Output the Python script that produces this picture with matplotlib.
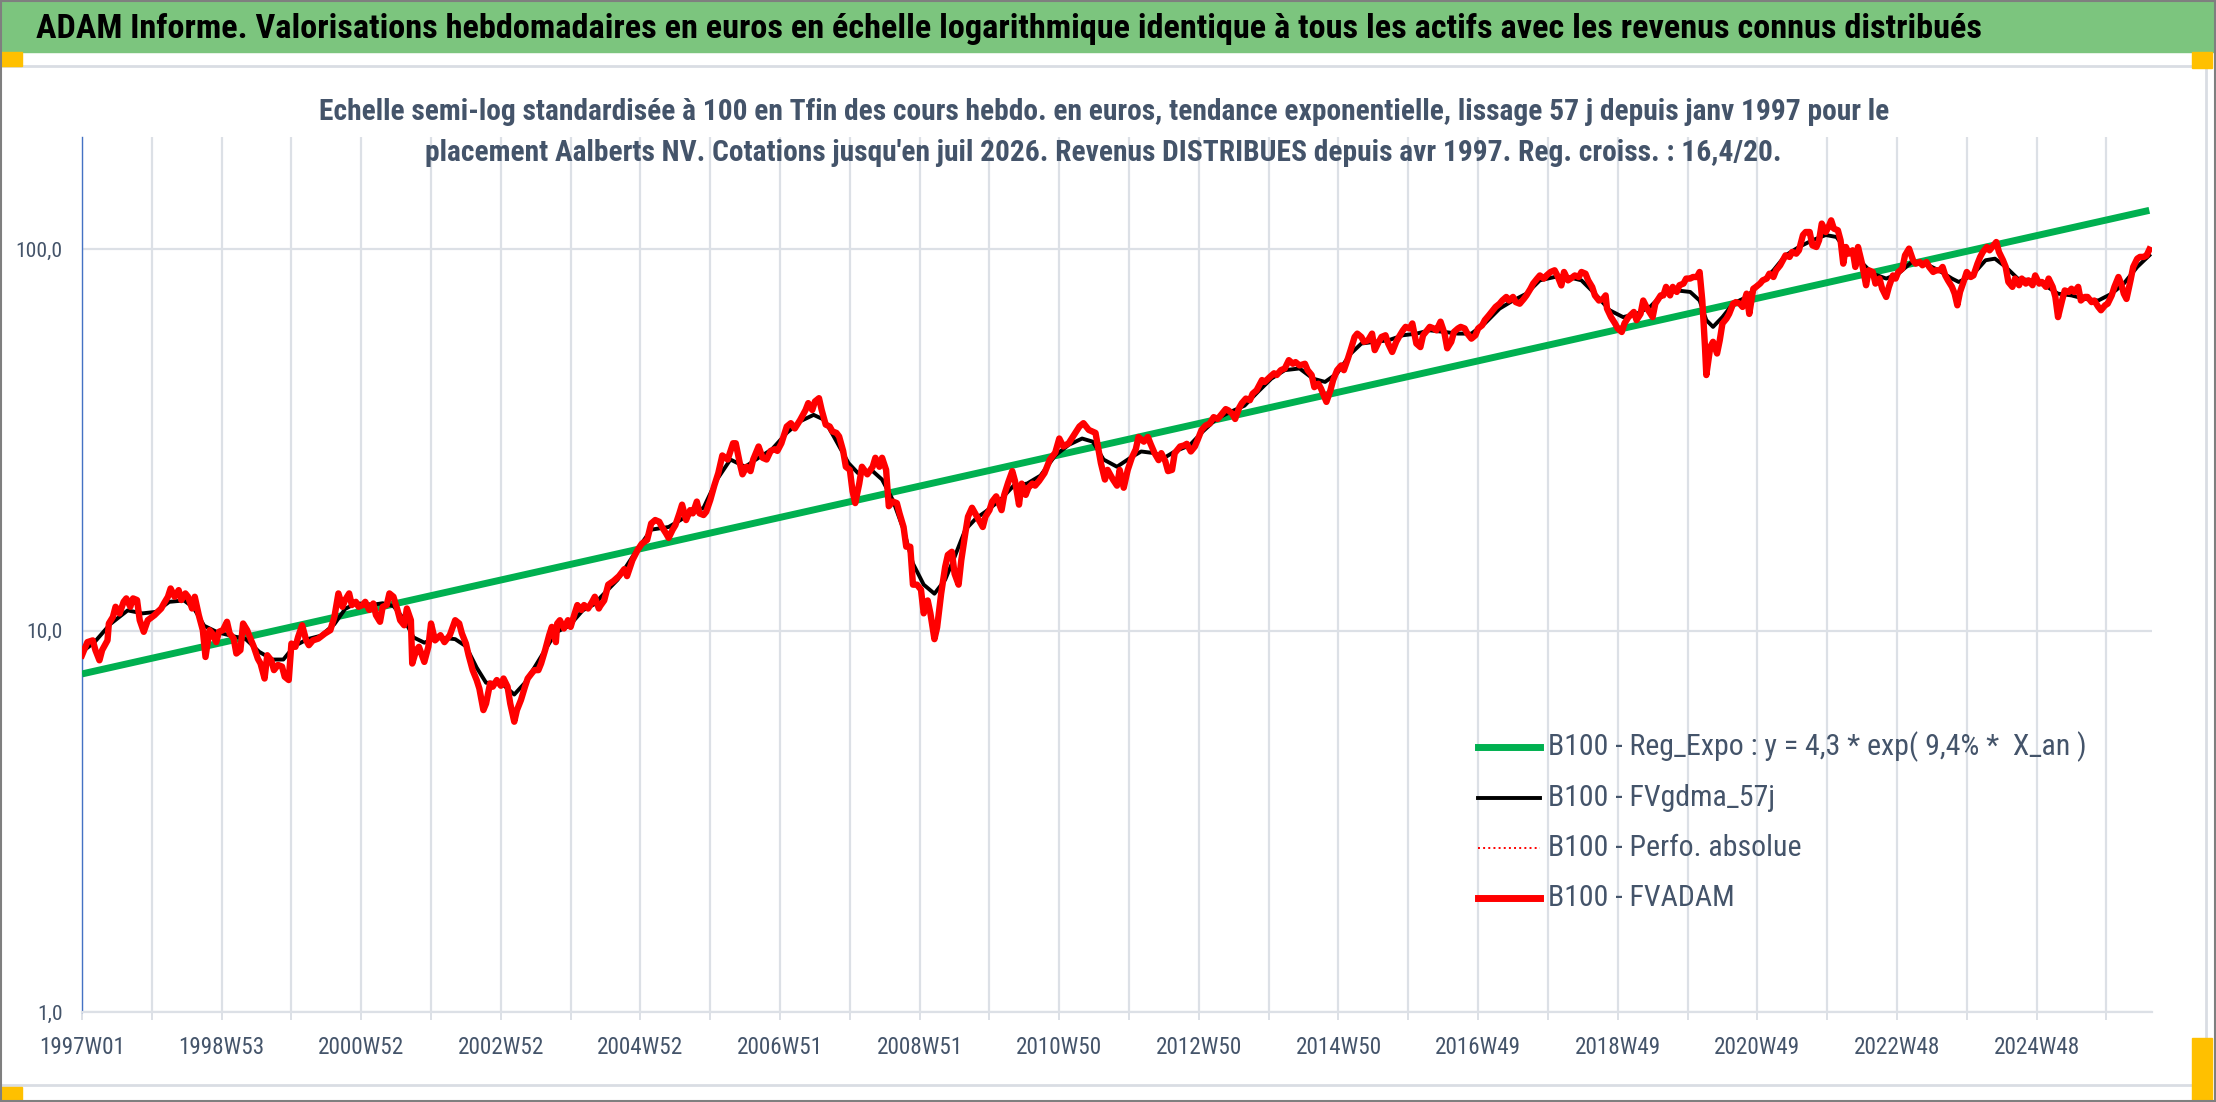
import matplotlib
matplotlib.use("Agg")
import matplotlib.pyplot as plt
from matplotlib import font_manager
from matplotlib.patches import Rectangle
from matplotlib.lines import Line2D

# Police etroite proche de Calibri, selon ce qui est installe
_noms = {f.name for f in font_manager.fontManager.ttflist}
_police = 'DejaVu Sans'
for _fam in ['Liberation Sans Narrow', 'Roboto Condensed', 'Open Sans Condensed', 'Lato', 'Roboto']:
    if _fam in _noms:
        _police = _fam
        break
plt.rcParams['font.family'] = [_police, 'DejaVu Sans']

# Donnees (semaine depuis 1997W01, valeur base 100)
semaines_fvadam = [
    0, 4, 8, 10, 13, 15, 19, 20, 23, 25, 28, 31, 33, 36, 38, 41, 43, 46, 49, 54, 59, 61, 64, 66, 69, 72, 74, 77, 79,
    82, 84, 87, 90, 92, 95, 97, 100, 102, 105, 108, 110, 113, 115, 118, 120, 123, 126, 128, 131, 133, 136, 138, 141,
    143, 146, 149, 151, 154, 156, 159, 161, 164, 167, 169, 172, 176, 181, 185, 188, 191, 194, 196, 199, 201, 204,
    206, 209, 211, 214, 217, 219, 222, 224, 227, 229, 232, 235, 237, 240, 242, 245, 246, 249, 251, 255, 258, 260,
    263, 267, 270, 274, 278, 281, 283, 286, 288, 291, 294, 296, 299, 301, 304, 306, 309, 312, 314, 317, 319, 322,
    324, 327, 330, 332, 335, 337, 340, 342, 345, 348, 350, 353, 354, 356, 359, 362, 364, 367, 369, 372, 374, 377,
    380, 382, 385,
    386, 389, 392, 396, 400, 404, 406, 410, 414, 417, 421, 424, 427, 430, 432, 435, 437, 440, 442, 445, 447, 450,
    453, 455, 458, 460, 463, 465, 468, 471, 474, 477, 481, 485, 487, 490, 492, 495, 498, 500, 504, 507, 510, 513,
    516, 518, 521, 525, 528, 531, 535, 539, 541, 544, 546, 549, 551, 554, 557, 559, 562, 564, 567, 569, 572, 574,
    576, 579, 581, 585, 589, 591, 594, 596, 599, 601, 604, 607, 609, 612, 614, 617, 619, 622, 625, 627, 630, 632,
    635, 637, 640, 643, 645, 648, 650, 653, 655, 658, 660, 663, 666, 668, 671, 673, 676, 678, 681, 685, 687, 690,
    693, 695, 698, 700, 703, 705, 708, 710, 713, 717, 721, 725, 728, 731, 735, 739, 743, 746, 750, 755, 759, 762,
    764, 768, 771, 773, 776, 779, 782, 785,
    787, 791, 794, 796, 799, 802, 804, 807, 809, 812, 814, 818, 821, 823, 826, 829, 831, 834, 837, 840, 843, 846,
    849, 852, 854, 857, 859, 862, 864, 867, 870, 872, 875, 879, 881, 885, 888, 890, 893, 896, 899, 902, 904, 907,
    911, 913, 916, 918, 921, 923, 926, 927, 930, 932, 935, 938, 940, 943, 945, 948, 950, 953, 955, 958, 961, 963,
    966, 968, 971, 973, 976, 979, 981, 984, 986, 989, 991, 994, 997, 999, 1002, 1004, 1007, 1009, 1012, 1015, 1017,
    1020, 1022, 1025, 1027, 1030, 1032, 1035, 1038, 1040, 1043, 1045, 1048, 1050, 1053, 1056, 1058, 1061, 1063,
    1066, 1068, 1071, 1074, 1076, 1079, 1081, 1084, 1086, 1089, 1091, 1094, 1097, 1099, 1102, 1104, 1107, 1109,
    1112, 1115, 1117, 1120, 1122, 1125, 1127, 1130, 1133, 1135, 1136, 1139, 1142, 1144, 1147, 1149, 1152, 1156,
    1158, 1161, 1163, 1166, 1170, 1172, 1176,
    1178, 1180, 1183, 1185, 1188, 1190, 1193, 1195, 1198, 1200, 1203, 1205, 1207, 1209, 1210, 1213, 1215, 1218,
    1220, 1222, 1225, 1227, 1230, 1232, 1235, 1237, 1240, 1242, 1245, 1247, 1250, 1252, 1255, 1257, 1260, 1262,
    1265, 1267, 1269, 1272, 1274, 1277, 1279, 1282, 1284, 1287, 1289, 1292, 1294, 1296, 1299, 1301, 1303, 1305,
    1308, 1310, 1312, 1314, 1316, 1319, 1321, 1323, 1326, 1329, 1331, 1334, 1336, 1339, 1341, 1344, 1346, 1349,
    1351, 1353, 1356, 1358, 1361, 1364, 1366, 1369, 1371, 1374, 1376, 1379, 1381, 1384, 1386, 1388, 1390, 1393,
    1395, 1397, 1399, 1402, 1404, 1407, 1409, 1412, 1414, 1416, 1419, 1421, 1424, 1426, 1428, 1431, 1433, 1435,
    1438, 1440, 1443, 1445, 1448, 1450, 1453, 1455, 1458, 1460, 1463, 1465, 1468, 1470, 1472, 1475, 1477, 1480,
    1482, 1484, 1487, 1489, 1492, 1494, 1497, 1499, 1502, 1504, 1507, 1509, 1512, 1514, 1517, 1519, 1521, 1523,
    1526, 1528, 1531, 1533, 1536, 1538, 1540,
]
valeurs_fvadam = [
    8.62, 9.33, 9.43, 8.89, 8.36, 8.89, 9.43, 10.44, 10.86, 11.55, 11.09, 11.9, 12.15, 11.55, 12.15, 12.03, 10.65,
    9.93, 10.65, 10.98, 11.43, 11.78, 12.27, 12.9, 12.27, 12.77, 12.03, 12.52, 12.27, 11.43, 12.27, 10.98, 10.03,
    8.53, 10.03, 9.83, 9.33, 9.93, 10.03, 10.55, 9.83, 9.53, 8.71, 8.89, 10.44, 10.03, 9.43, 9.07, 8.44, 8.2, 7.49,
    8.62, 8.36, 7.88, 8.13, 8.05, 7.57, 7.42, 9.25, 9.07, 9.63, 10.33, 9.43, 9.16, 9.43, 9.53, 9.83, 10.03, 10.86,
    12.52, 11.55, 12.03, 12.52, 11.67, 11.9, 11.55, 11.67, 11.9, 11.33, 11.78, 10.98, 10.55, 11.55, 11.67, 12.52,
    12.27, 11.33, 10.65, 10.33, 11.43, 10.65, 8.2, 8.89, 9.07, 8.28, 9.07, 10.44, 9.43, 9.73, 9.33, 9.73, 10.65,
    10.44, 9.83, 9.25, 8.62, 7.88, 7.42, 7.05, 6.19, 6.44, 7.27, 7.13, 7.42, 7.17, 7.49, 7.13, 6.44, 5.77, 6.19,
    6.58, 7.13, 7.49, 7.73, 7.88, 7.88, 8.2, 8.89, 9.73, 10.23, 9.33, 10.44, 10.65, 10.13, 10.65, 10.23, 11.09,
    11.67, 11.33, 11.67, 11.43, 11.9, 12.27, 11.43,
    11.6, 12.0, 13.2, 13.5, 13.9, 14.5, 13.9, 15.3, 16.3, 16.9, 17.3, 19.1, 19.5, 19.3, 18.7, 18.0, 17.5, 18.4,
    18.9, 20.3, 21.4, 19.5, 20.7, 20.3, 21.8, 20.3, 20.1, 20.5, 22.0, 24.0, 25.9, 28.8, 28.1, 31.0, 31.0, 27.5,
    25.7, 26.9, 26.2, 28.1, 30.4, 28.4, 28.1, 29.6, 29.9, 29.6, 31.0, 34.3, 35.0, 33.9, 35.7, 37.9, 39.5, 37.9,
    39.9, 40.7, 37.9, 34.7, 34.3, 33.3, 33.0, 32.3, 29.6, 26.9, 26.4, 23.2, 21.6, 24.3, 26.9, 25.7, 26.9, 28.4,
    26.9, 28.4, 26.4, 21.2, 21.8, 21.6, 20.3, 18.7, 16.6, 16.6, 13.2, 13.2, 12.8, 11.1, 12.0, 11.1, 9.5, 10.2,
    12.5, 14.7, 15.8, 16.1, 14.1, 13.2, 15.3, 18.0, 19.9, 21.0, 20.1, 19.5, 18.7, 19.9, 20.7, 21.8, 22.5, 20.7,
    22.7, 24.5, 26.2, 24.7, 21.4, 24.3, 22.7, 23.7, 24.3, 24.0, 24.7, 25.9, 28.1, 29.3, 31.9, 30.4, 31.0, 32.6,
    34.3, 35.0, 33.6, 33.0, 27.5, 24.9, 26.4, 24.9, 24.0, 26.4, 23.7, 26.4, 28.4, 29.9,
    32.2, 31.3, 32.2, 30.9, 29.2, 28.0, 29.2, 27.8, 26.2, 26.4, 29.2, 30.4, 30.6, 30.9, 29.5, 30.4, 31.6, 33.6,
    34.5, 34.9, 36.3, 35.9, 37.0, 38.1, 37.8, 37.0, 35.9, 38.4, 39.5, 40.6, 40.2, 41.8, 42.7, 45.4, 44.9, 46.3,
    47.3, 46.8, 48.2, 48.7, 51.2, 50.1, 50.6, 49.6, 50.1, 48.2, 46.8, 43.5, 44.4, 43.1, 40.6, 39.8, 42.7, 45.4,
    48.2, 49.6, 48.2, 51.7, 54.4, 58.9, 60.1, 58.9, 57.2, 57.7, 60.1, 54.4, 57.2, 58.9, 59.5, 56.6, 53.8, 57.2,
    58.9, 61.3, 62.6, 62.0, 63.9, 56.6, 55.4, 59.5, 61.3, 62.6, 62.0, 61.3, 64.6, 60.1, 55.0, 57.2, 60.7, 62.0,
    62.6, 62.0, 60.1, 58.3, 59.5, 62.0, 63.2, 65.2, 67.1, 68.5, 70.6, 72.0, 73.4, 75.0, 73.4, 75.0, 72.7, 72.0,
    74.1, 75.7, 78.8, 81.3, 83.8, 85.4, 83.8, 85.4, 87.2, 88.1, 85.4, 80.4, 87.2, 82.9, 83.8, 85.4, 84.6, 87.2,
    86.3, 82.9, 79.6, 75.7, 73.4, 74.1, 75.7, 69.9, 66.4, 63.9, 62.0, 60.7, 63.9, 66.4, 68.5, 65.2, 67.7, 73.4,
    69.9, 66.4, 72.0, 75.7,
    75.7, 79.7, 75.7, 79.7, 77.3, 80.5, 81.3, 83.8, 83.8, 84.6, 84.6, 87.2, 73.4, 55.5, 46.8, 55.5, 57.2, 53.3,
    57.7, 63.9, 65.8, 67.7, 72.0, 72.7, 72.0, 70.6, 76.5, 67.7, 78.8, 79.7, 81.3, 82.9, 83.8, 86.3, 84.6, 88.1,
    90.8, 93.6, 96.4, 95.5, 98.4, 97.4, 99.4, 109.0, 111.0, 111.0, 102.4, 101.4, 105.6, 116.8, 111.0, 114.4,
    119.1, 113.3, 112.2, 105.6, 91.7, 101.4, 97.4, 99.4, 89.9, 101.4, 91.7, 80.5, 88.1, 87.2, 81.3, 83.8, 78.8,
    75.0, 79.7, 85.4, 83.8, 87.2, 89.0, 96.4, 100.4, 93.6, 91.7, 92.6, 90.8, 92.6, 89.9, 87.2, 88.1, 88.1, 89.9,
    85.4, 82.9, 79.7, 76.5, 71.3, 77.3, 82.9, 87.2, 84.6, 85.4, 91.7, 95.5, 98.4, 101.4, 99.4, 102.4, 104.5,
    98.4, 93.6, 89.9, 82.1, 79.7, 83.8, 80.5, 83.8, 81.3, 82.9, 80.5, 85.4, 81.3, 82.1, 79.7, 83.8, 79.7, 75.0,
    66.4, 73.4, 78.0, 77.3, 78.8, 77.3, 79.7, 73.4, 75.0, 75.0, 72.7, 73.4, 70.6, 69.2, 71.3, 72.0, 75.7, 79.7,
    84.6, 81.3, 76.5, 74.1, 82.9, 89.9, 94.5, 95.5, 95.5, 96.4, 99.8,
]

semaines_lisse = [
    0, 9, 21, 34, 45, 55, 65, 76, 83, 91, 101, 111, 122, 132, 142, 150, 158, 168, 178, 188, 196, 204, 217, 224,
    232, 240, 247, 255, 265, 278, 286, 294, 301, 312, 322, 330, 337, 345, 353, 363, 373, 383, 386, 399, 412, 424,
    437, 450, 463, 473, 483, 494, 504, 514, 525, 535, 545, 553, 560, 571, 578, 589, 596, 604, 612, 619, 627, 635,
    643, 650, 658, 666, 673, 684, 694, 704, 714, 725, 735, 745, 753, 761, 771, 781, 789, 799, 807, 814, 825, 835,
    845, 855, 866, 876, 886, 896, 907, 917, 926, 935, 945, 953, 963, 973, 984, 994, 1004, 1015, 1025, 1035, 1045,
    1056, 1066, 1076, 1086, 1097, 1107, 1117, 1127, 1138, 1148, 1158, 1168, 1178, 1188, 1198, 1205, 1210, 1215,
    1222, 1230, 1240, 1250, 1260, 1269, 1279, 1289, 1299, 1307, 1314, 1324, 1334, 1344, 1353, 1363, 1373, 1383,
    1393, 1398, 1408, 1418, 1425, 1433, 1442, 1452, 1462, 1472, 1482, 1492, 1502, 1512, 1521, 1531, 1540,
]
valeurs_lisse = [
    8.8, 9.3, 10.4, 11.3, 11.1, 11.2, 11.9, 12.0, 11.5, 10.3, 9.9, 9.7, 9.5, 8.8, 8.4, 8.4, 9.1, 9.5, 9.7, 10.4,
    11.4, 11.8, 11.7, 11.8, 11.6, 10.7, 9.6, 9.3, 9.6, 9.5, 9.1, 8.0, 7.3, 7.3, 6.8, 7.3, 8.0, 8.9, 9.9, 10.3,
    11.3, 11.8, 12.2, 13.6, 16.0, 18.4, 18.7, 19.9, 21.0, 24.9, 28.1, 26.9, 28.4, 29.9, 33.0, 35.4, 36.8, 35.7,
    32.3, 27.5, 25.9, 26.2, 24.9, 22.0, 18.4, 15.0, 13.2, 12.5, 13.6, 15.6, 18.4, 19.7, 20.5, 22.0, 24.0, 24.3,
    25.5, 28.8, 30.7, 31.9, 31.3, 28.1, 26.9, 28.4, 29.5, 29.2, 28.5, 29.5, 30.6, 33.3, 35.9, 37.4, 38.9, 42.3,
    45.8, 48.2, 48.7, 45.8, 44.9, 47.3, 53.2, 56.6, 57.2, 57.7, 59.5, 60.1, 61.3, 60.7, 60.1, 60.1, 63.9, 69.9,
    73.4, 76.5, 82.9, 84.6, 84.6, 82.9, 76.5, 69.2, 66.4, 67.7, 70.6, 76.5, 78.0, 77.3, 73.4, 65.2, 62.6, 66.4,
    72.0, 75.0, 81.3, 88.1, 96.4, 101.4, 105.6, 109.0, 107.7, 99.4, 93.6, 86.3, 83.8, 86.3, 92.6, 91.7, 88.1,
    83.8, 82.1, 85.4, 93.6, 94.5, 89.9, 83.8, 82.9, 80.5, 76.5, 75.7, 74.1, 73.4, 76.5, 81.3, 89.9, 96.4,
]

# Tendance exponentielle : valeurs aux deux extremites
semaines_reg = [0, 1540]
valeurs_reg = [7.7, 126.5]

etiquettes_x = ['1997W01', '1998W53', '2000W52', '2002W52', '2004W52', '2006W51', '2008W51', '2010W50',
                '2012W50', '2014W50', '2016W49', '2018W49', '2020W49', '2022W48', '2024W48']
graduations_y = [1, 10, 100]
etiquettes_y = ['1,0', '10,0', '100,0']

titre = ("ADAM Informe. Valorisations hebdomadaires en euros en échelle logarithmique identique "
         "à tous les actifs avec les revenus connus distribués")
sous_titre1 = ("Echelle semi-log standardisée à 100 en Tfin des cours hebdo. en euros, tendance exponentielle, "
               "lissage 57 j depuis janv 1997 pour le")
sous_titre2 = ("placement Aalberts NV. Cotations jusqu'en juil 2026. Revenus DISTRIBUES depuis avr 1997. "
               "Reg. croiss. : 16,4/20.")
legendes = ['B100 - Reg_Expo : y = 4,3 * exp( 9,4% *  X_an )', 'B100 - FVgdma_57j',
            'B100 - Perfo. absolue', 'B100 - FVADAM']

W, H = 2216, 1102
VERT = '#00B050'
ROUGE = '#FF0000'
GRILLE = '#DCE0E6'
TEXTE = '#44546A'


def fx(x):
    return x / W


def fy(y):
    return 1 - y / H


fig = plt.figure(figsize=(W / 100, H / 100), dpi=100)
fig.patch.set_facecolor('white')
rendu = fig.canvas.get_renderer()


def ajuster(t, largeur):
    w = t.get_window_extent(renderer=rendu).width
    t.set_fontsize(t.get_fontsize() * largeur / w)


def taille_pour(texte, largeur, **kw):
    t = fig.text(0, 0, texte, fontsize=20, **kw)
    ajuster(t, largeur)
    s = t.get_fontsize()
    t.remove()
    return s


# Cadre et bandeau
fig.add_artist(Rectangle((0, fy(52)), 1, 52 / H, transform=fig.transFigure, color='#7CC57E', zorder=0))
fig.add_artist(Line2D([0, fx(2206)], [fy(66), fy(66)], transform=fig.transFigure, color='#D9DDE3', lw=2))
fig.add_artist(Line2D([fx(2206), fx(2206)], [fy(66), fy(1085)], transform=fig.transFigure, color='#D9DDE3', lw=2))
fig.add_artist(Line2D([0, fx(2206)], [fy(1085), fy(1085)], transform=fig.transFigure, color='#D9DDE3', lw=2))
for (x0, y0, x1, y1) in [(0, 52, 22, 66), (2192, 52, 2212, 68), (0, 1087, 22, 1100), (2192, 1038, 2212, 1100)]:
    fig.add_artist(Rectangle((fx(x0), fy(y1)), (x1 - x0) / W, (y1 - y0) / H, transform=fig.transFigure,
                             color='#FFC000', zorder=3))
fig.add_artist(Rectangle((0.0005, 0.001), 0.999, 0.998, transform=fig.transFigure, fill=False,
                         edgecolor='#7F7F7F', lw=1.5, zorder=4))

t = fig.text(fx(36), fy(29), titre, ha='left', va='center', fontsize=24, fontweight='bold', color='black')
ajuster(t, 1953)

# Zone de trace
ax = fig.add_axes([fx(82), fy(1012), (2152 - 82) / W, (1012 - 137) / H])
ax.set_yscale('log')
ax.set_ylim(1, 197)
ax.set_xlim(0, 1542)

ax.plot(semaines_reg, valeurs_reg, color=VERT, lw=5.0, solid_capstyle='butt', zorder=3)
ax.plot(semaines_lisse, valeurs_lisse, color='black', lw=2.8, zorder=4)
ax.plot(semaines_fvadam, valeurs_fvadam, color=ROUGE, lw=1, ls=':', zorder=4)
ax.plot(semaines_fvadam, valeurs_fvadam, color=ROUGE, lw=4.6, solid_joinstyle='round', zorder=5)

taille_x = taille_pour('1997W01', 86)
taille_y = taille_pour('10,0', 36)

ax.set_xticks(range(0, 1542, 52))
ax.set_xticklabels([etiquettes_x[i // 2] if i % 2 == 0 else '' for i in range(len(range(0, 1542, 52)))])
ax.set_yticks(graduations_y)
ax.set_yticklabels(etiquettes_y)
ax.yaxis.set_minor_locator(matplotlib.ticker.NullLocator())
ax.grid(True, color=GRILLE, lw=1.6, zorder=0)
ax.set_axisbelow(True)
ax.tick_params(axis='x', length=6, width=1.4, color=GRILLE, pad=11, labelsize=taille_x, labelcolor=TEXTE)
ax.tick_params(axis='y', length=0, pad=14, labelsize=taille_y, labelcolor=TEXTE)
for s in ['top', 'right']:
    ax.spines[s].set_visible(False)
ax.spines['left'].set_color('#4472C4')
ax.spines['left'].set_linewidth(1.0)
ax.spines['bottom'].set_color(GRILLE)
ax.spines['bottom'].set_linewidth(1.6)

# Sous-titre
t1 = fig.text(fx(1104), fy(112), sous_titre1, ha='center', va='center', fontsize=20, fontweight='bold', color=TEXTE)
ajuster(t1, 1567)
t2 = fig.text(fx(1103), fy(153), sous_titre2, ha='center', va='center', fontsize=20, fontweight='bold', color=TEXTE)
t2.set_fontsize(t1.get_fontsize())

# Legende
styles = [dict(color=VERT, lw=5.0), dict(color='black', lw=2.8), dict(color=ROUGE, lw=1.4, ls=':'),
          dict(color=ROUGE, lw=5.0)]
lignes_y = [747, 798, 848, 898]
taille = None
for lib, st, y in zip(legendes, styles, lignes_y):
    fig.add_artist(Line2D([fx(1478), fx(1540)], [fy(y), fy(y)], transform=fig.transFigure, **st))
    tl = fig.text(fx(1548), fy(y), lib, ha='left', va='center', fontsize=20, color=TEXTE)
    if taille is None:
        ajuster(tl, 539)
        taille = tl.get_fontsize()
    else:
        tl.set_fontsize(taille)

fig.savefig('out.png', dpi=100)
